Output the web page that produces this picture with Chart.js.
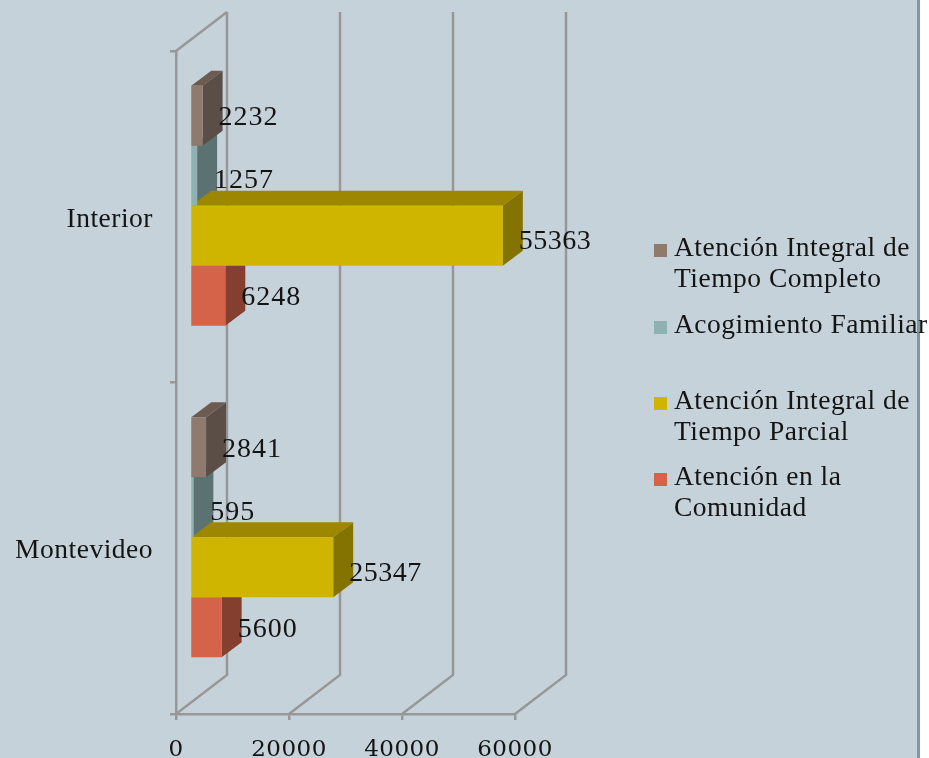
<!DOCTYPE html>
<html>
<head>
<meta charset="utf-8">
<title>Atención por modalidad</title>
<script src="https://cdn.jsdelivr.net/npm/chart.js@4/dist/chart.umd.min.js"></script>
<style>
    html, body { margin: 0; padding: 0; background: #fff; overflow: hidden; }
    #panel { position: absolute; left: 0; top: 0; width: 917px; height: 758px; background: #c6d2da; border-right: 3px solid #7f9a9e; }
    #wrap { position: absolute; left: 0; top: 0; width: 929px; height: 758px; }
</style>
</head>
<body>
<div id="panel"></div>
<div id="wrap"><canvas id="chart" width="929" height="758"></canvas></div>
<script>
var categories = ['Interior', 'Montevideo'];
var tiempoCompleto = [2232, 2841];
var acogimiento = [1257, 595];
var tiempoParcial = [55363, 25347];
var comunidad = [6248, 5600];
var legendLines = [
    ['Atención Integral de', 'Tiempo Completo'],
    ['Acogimiento Familiar'],
    ['Atención Integral de', 'Tiempo Parcial'],
    ['Atención en la', 'Comunidad']
];
var xTicks = [0, 20000, 40000, 60000];

var SERIF = 'Liberation Serif';
var INK = '#141414';
var AXIS = '#979797';

// colours of the side and top faces of each bar
var sideColors = ['#5a4e47', '#5c7272', '#857300', '#853f2e'];
var topColors = ['#6c5b51', '#6f8a8b', '#9e8700', '#a04b37'];

// the fake 3d: bars float in front of the back wall
var wallDepth = { x: 51, y: -39 };
var barDepth = { x: 20, y: -15 };
var barShift = { x: 14, y: -11 };
var labelOffset = [{ x: 16, y: 2 }, { x: 17, y: 5 }, { x: 16, y: 6 }, { x: 16, y: 2 }];
var labelSpacing = ['1px', '1px', '0.5px', '1px'];

function poly(ctx, pts, color) {
    ctx.fillStyle = color;
    ctx.beginPath();
    ctx.moveTo(pts[0][0], pts[0][1]);
    for (var i = 1; i < pts.length; i++) ctx.lineTo(pts[i][0], pts[i][1]);
    ctx.closePath();
    ctx.fill();
}

var threeD = {
    id: 'threeD',
    beforeDraw: function(chart) {
        chart.ctx.letterSpacing = '0.5px';
    },
    beforeDatasetsDraw: function(chart) {
        var ctx = chart.ctx, area = chart.chartArea, xs = chart.scales.x;
        ctx.save();
        // walls
        ctx.strokeStyle = AXIS;
        ctx.lineWidth = 2.5;
        xTicks.forEach(function(t) {
            var px = xs.getPixelForValue(t);
            ctx.beginPath();
            ctx.moveTo(px, area.bottom);
            ctx.lineTo(px + wallDepth.x, area.bottom + wallDepth.y);
            ctx.lineTo(px + wallDepth.x, area.top + wallDepth.y);
            ctx.stroke();
        });
        ctx.beginPath();
        ctx.moveTo(area.left, area.top);
        ctx.lineTo(area.left + wallDepth.x, area.top + wallDepth.y);
        ctx.stroke();
        // side faces first, the front faces come from the chart on top of them
        [3, 1, 0, 2].forEach(function(d) {
            chart.getDatasetMeta(d).data.forEach(function(bar) {
                var x0 = bar.base + barShift.x, x1 = bar.x + barShift.x;
                var y0 = bar.y - bar.height / 2 + barShift.y, y1 = bar.y + bar.height / 2 + barShift.y;
                var dx = barDepth.x, dy = barDepth.y;
                poly(ctx, [[x0, y0], [x0 + dx, y0 + dy], [x1 + dx, y0 + dy], [x1, y0]], topColors[d]);
                poly(ctx, [[x1, y0], [x1 + dx, y0 + dy], [x1 + dx, y1 + dy], [x1, y1]], sideColors[d]);
            });
        });
        ctx.restore();
    },
    beforeDatasetDraw: function(chart) {
        chart.ctx.save();
        chart.ctx.translate(barShift.x, barShift.y);
    },
    afterDatasetDraw: function(chart) {
        chart.ctx.restore();
    },
    afterDatasetsDraw: function(chart) {
        var ctx = chart.ctx;
        ctx.save();
        ctx.font = '28px "' + SERIF + '"';
        ctx.fillStyle = INK;
        ctx.textAlign = 'left';
        ctx.textBaseline = 'middle';
        chart.data.datasets.forEach(function(ds, d) {
            ctx.letterSpacing = labelSpacing[d];
            chart.getDatasetMeta(d).data.forEach(function(bar, i) {
                ctx.fillText(String(ds.data[i]), bar.x + barShift.x + labelOffset[d].x, bar.y + barShift.y + labelOffset[d].y);
            });
        });
        // legend, spacing between the entries is not even in the original
        var legendY = [249, 326, 402, 478];
        ctx.font = '27.5px "' + SERIF + '"';
        ctx.letterSpacing = '0.5px';
        chart.data.datasets.forEach(function(ds, d) {
            ctx.fillStyle = ds.backgroundColor;
            ctx.fillRect(654, legendY[d] - 5, 13, 13);
            ctx.fillStyle = INK;
            legendLines[d].forEach(function(line, n) {
                ctx.fillText(line, 674, legendY[d] + n * 31);
            });
        });
        ctx.restore();
    }
};

var chart = new Chart(document.getElementById('chart'), {
    type: 'bar',
    data: {
        labels: categories,
        datasets: [
            { label: 'Atención Integral de Tiempo Completo', data: tiempoCompleto, backgroundColor: '#8f7a6d' },
            { label: 'Acogimiento Familiar', data: acogimiento, backgroundColor: '#8fb1b2' },
            { label: 'Atención Integral de Tiempo Parcial', data: tiempoParcial, backgroundColor: '#cfb500' },
            { label: 'Atención en la Comunidad', data: comunidad, backgroundColor: '#d4634a' }
        ]
    },
    options: {
        indexAxis: 'y',
        responsive: false,
        animation: false,
        barPercentage: 1,
        categoryPercentage: 0.724,
        layout: { padding: { left: 16, right: 414, top: 51, bottom: 0 } },
        plugins: { legend: { display: false }, tooltip: { enabled: false } },
        scales: {
            x: {
                min: 0,
                max: 60000,
                afterFit: function(scale) { scale.height = 44; },
                afterBuildTicks: function(scale) {
                    scale.ticks = xTicks.map(function(v) { return { value: v }; });
                },
                ticks: {
                    maxRotation: 0,
                    padding: 16,
                    color: INK,
                    font: { family: 'DejaVu Serif', size: 23 },
                    callback: function(v) { return String(v); }
                },
                grid: { drawOnChartArea: false, color: AXIS, lineWidth: 2.5, tickLength: 6 },
                border: { color: AXIS, width: 2.5 }
            },
            y: {
                afterFit: function(scale) { scale.width = 160; },
                ticks: { padding: 17, labelOffset: 3, color: INK, font: { family: SERIF, size: 27.5 } },
                grid: { drawOnChartArea: false, color: AXIS, lineWidth: 2.5, tickLength: 6 },
                border: { color: AXIS, width: 2.5 }
            }
        }
    },
    plugins: [threeD]
});
</script>
</body>
</html>
